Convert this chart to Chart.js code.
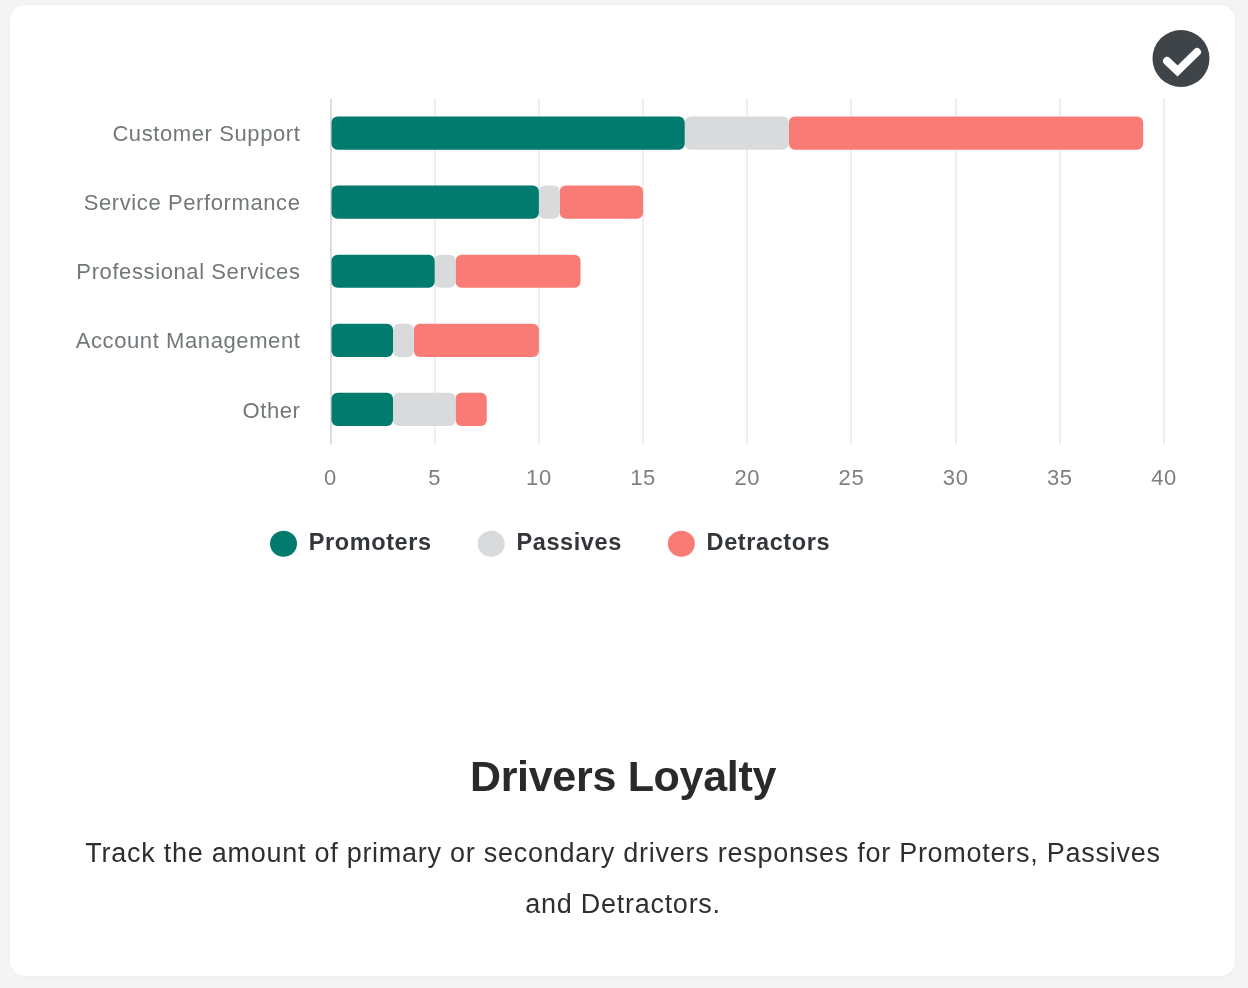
<!DOCTYPE html>
<html>
<head>
<meta charset="utf-8">
<title>Drivers Loyalty</title>
<script src="https://cdn.jsdelivr.net/npm/chart.js@4/dist/chart.umd.min.js"></script>
<style>
    html, body { margin: 0; padding: 0; width: 1248px; height: 988px; overflow: hidden; background: #f4f4f5; font-family: "Liberation Sans", sans-serif; }
    .card { position: absolute; left: 10px; top: 5px; width: 1225px; height: 971px; background: #fff; border-radius: 15px; box-shadow: 0 0 4px rgba(0,0,0,.04); }
    #chart { position: absolute; left: 0; top: 0; }
    .check { position: absolute; left: 1152px; top: 30px; }
    h1 { position: absolute; left: 0; width: 1246px; top: 750px; margin: 0; text-align: center; font-size: 43px; line-height: 52px; font-weight: 700; letter-spacing: -0.3px; color: #2a2a2a; }
    p { position: absolute; left: 0; width: 1246px; top: 827.5px; margin: 0; text-align: center; font-size: 27px; line-height: 51.5px; letter-spacing: 0.74px; color: #2f2f2f; }
</style>
</head>
<body>
<div class="card"></div>
<canvas id="chart" width="1248" height="988"></canvas>
<svg class="check" width="58" height="58" viewBox="0 0 58 58">
    <circle cx="29" cy="28.5" r="28.5" fill="#3f4449"/>
    <path d="M15 31 L25.5 41 L45 22" fill="none" stroke="#fff" stroke-width="8" stroke-linecap="round" stroke-linejoin="miter"/>
</svg>
<h1>Drivers Loyalty</h1>
<p>Track the amount of primary or secondary drivers responses for Promoters, Passives<br>and Detractors.</p>

<script>
    var categories = ['Customer Support', 'Service Performance', 'Professional Services', 'Account Management', 'Other'];
    var promoters = [17, 10, 5, 3, 3];
    var passives = [5, 1, 1, 1, 3];
    var detractors = [17, 4, 6, 6, 1.5];

    var tickFont = { family: '"Liberation Sans", sans-serif', size: 22 };
    var legendFont = { family: '"Liberation Sans", sans-serif', size: 23.5, weight: 'bold' };

    // floating bars, a plain stack only rounds the outer ends
    function spans(values, before) {
        return values.map(function (v, i) {
            var start = before ? before[i] : 0;
            return [start, start + v];
        });
    }
    function ends(list) {
        return list.map(function (s) { return s[1]; });
    }

    var promoterSpans = spans(promoters);
    var passiveSpans = spans(passives, ends(promoterSpans));
    var detractorSpans = spans(detractors, ends(passiveSpans));

    function barSet(label, data, color) {
        return {
            label: label,
            data: data,
            backgroundColor: color,
            borderRadius: 6,
            borderSkipped: false,
            barPercentage: 0.48,
            categoryPercentage: 1
        };
    }

    // the reference text is spaced out a bit, Chart.js has no option for that
    var spacing = {
        id: 'spacing',
        beforeLayout: function (chart) { chart.ctx.letterSpacing = '0.6px'; },
        beforeDraw: function (chart) { chart.ctx.letterSpacing = '0.6px'; },
        afterLayout: function (chart) {
            chart.legend.left = 224;
            chart.legend.right = 1000;
            chart.legend.top = 486;
            chart.legend.bottom = 600;
        }
    };

    new Chart(document.getElementById('chart').getContext('2d'), {
        type: 'bar',
        data: {
            labels: categories,
            datasets: [
                barSet('Promoters', promoterSpans, '#007b6e'),
                barSet('Passives', passiveSpans, '#d9dadc'),
                barSet('Detractors', detractorSpans, '#f97b75')
            ]
        },
        plugins: [spacing],
        options: {
            responsive: false,
            animation: false,
            indexAxis: 'y',
            layout: { padding: { left: 20, right: 84, top: 98.5, bottom: 414.5 } },
            plugins: {
                tooltip: { enabled: false },
                legend: {
                    position: 'bottom',
                    align: 'start',
                    labels: {
                        usePointStyle: true,
                        pointStyle: 'circle',
                        boxHeight: 18.4,
                        pointStyleWidth: 27,
                        padding: 46,
                        color: '#33363a',
                        font: legendFont
                    }
                }
            },
            scales: {
                x: {
                    min: 0,
                    max: 40,
                    afterFit: function (scale) { scale.height = 50; },
                    grid: {
                        color: function (ctx) { return ctx.tick && ctx.tick.value === 0 ? '#dcdcdc' : '#eeeeee'; },
                        lineWidth: 2,
                        drawTicks: false
                    },
                    border: { display: false },
                    ticks: { stepSize: 5, padding: 22, maxRotation: 0, color: '#7c8083', font: tickFont }
                },
                y: {
                    stacked: true,
                    afterFit: function (scale) { scale.width = 310.5; },
                    grid: { display: false },
                    border: { display: false },
                    ticks: { padding: 22, labelOffset: 2, color: '#72777a', font: tickFont }
                }
            }
        }
    });
</script>
</body>
</html>
